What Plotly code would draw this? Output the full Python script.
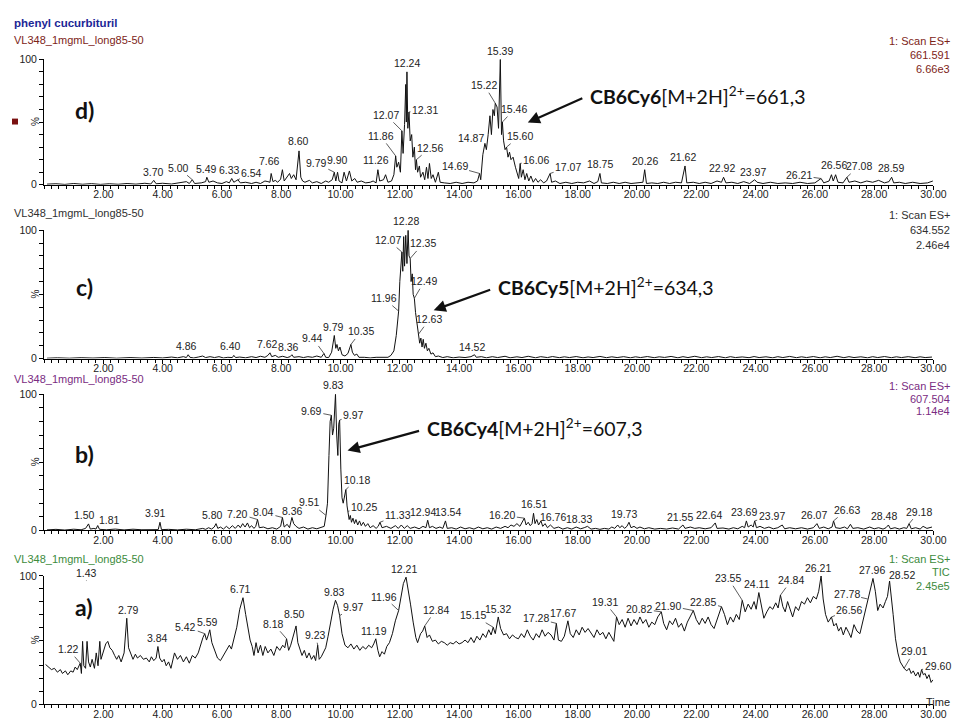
import plotly.graph_objects as go

FONT = "Liberation Sans, Arial, sans-serif"
BIG = "Lato, Calibri, sans-serif"

# ---------------- data (retention time in min, relative intensity in %) ----------------
# d) m/z 661.591
d_scan = [
    (0.10, 0.5), (0.40, 0.8), (0.70, 0.3), (1.00, 1.0), (1.30, 0.4), (1.60, 0.9), (1.90, 0.3), (2.20, 0.8),
    (2.50, 0.4), (2.80, 1.0), (3.10, 0.5), (3.40, 1.2), (3.60, 0.6), (3.70, 3.5), (3.78, 0.8), (4.00, 1.2),
    (4.30, 0.6), (4.55, 1.5), (4.80, 2.5), (4.90, 1.0), (5.00, 4.0), (5.08, 1.0), (5.30, 1.5), (5.45, 2.5),
    (5.49, 6.0), (5.56, 2.0), (5.70, 3.0), (5.85, 1.5), (6.00, 1.0), (6.15, 2.5), (6.25, 1.5), (6.33, 5.0),
    (6.40, 2.0), (6.47, 3.0), (6.54, 4.0), (6.62, 1.5), (6.80, 2.0), (7.00, 1.0), (7.15, 2.0), (7.30, 1.0),
    (7.45, 3.0), (7.55, 2.5), (7.62, 2.0), (7.66, 9.0), (7.72, 2.5), (7.80, 3.5), (7.88, 2.0), (7.98, 4.5),
    (8.04, 12.0), (8.10, 3.0), (8.20, 6.0), (8.28, 9.0), (8.34, 5.0), (8.42, 8.0), (8.50, 4.0), (8.60, 27.0),
    (8.66, 6.0), (8.72, 3.0), (8.80, 2.0), (8.95, 3.5), (9.05, 1.5), (9.20, 2.5), (9.35, 1.0), (9.50, 3.0),
    (9.60, 2.0), (9.72, 4.0), (9.79, 10.0), (9.84, 3.0), (9.90, 10.0), (9.95, 3.0), (10.05, 1.5), (10.12, 10.0),
    (10.20, 3.0), (10.30, 11.0), (10.38, 3.0), (10.48, 5.0), (10.56, 2.0), (10.70, 3.0), (10.85, 1.5), (11.00, 2.0),
    (11.10, 3.0), (11.20, 1.5), (11.26, 12.0), (11.32, 3.0), (11.45, 4.0), (11.52, 8.0), (11.60, 2.0), (11.72, 3.0),
    (11.80, 8.0), (11.86, 23.0), (11.90, 14.0), (11.96, 18.0), (12.02, 10.0), (12.07, 43.0), (12.11, 25.0),
    (12.16, 48.0), (12.20, 80.0), (12.22, 50.0), (12.24, 90.0), (12.27, 45.0), (12.31, 58.0), (12.35, 35.0),
    (12.40, 40.0), (12.44, 22.0), (12.49, 30.0), (12.53, 12.0), (12.56, 20.0), (12.60, 10.0), (12.66, 15.0),
    (12.70, 6.0), (12.78, 10.0), (12.84, 4.0), (12.90, 14.0), (12.95, 5.0), (13.00, 17.0), (13.06, 5.0),
    (13.12, 8.0), (13.20, 2.0), (13.30, 10.0), (13.36, 2.0), (13.50, 1.5), (13.70, 1.0), (13.90, 2.0),
    (14.10, 1.0), (14.30, 2.0), (14.50, 1.5), (14.62, 3.0), (14.69, 9.0), (14.73, 4.0), (14.80, 24.0),
    (14.87, 33.0), (14.92, 28.0), (14.98, 40.0), (15.04, 55.0), (15.09, 40.0), (15.14, 60.0), (15.19, 55.0),
    (15.22, 65.0), (15.28, 62.0), (15.33, 45.0), (15.39, 100.0), (15.43, 40.0), (15.46, 50.0), (15.50, 35.0),
    (15.55, 28.0), (15.60, 30.0), (15.65, 22.0), (15.70, 26.0), (15.75, 20.0), (15.82, 22.0), (15.90, 14.0),
    (15.96, 10.0), (16.01, 5.0), (16.06, 17.0), (16.10, 6.0), (16.16, 12.0), (16.22, 4.0), (16.28, 9.0),
    (16.35, 3.0), (16.42, 7.0), (16.50, 2.0), (16.58, 5.0), (16.66, 2.0), (16.75, 4.0), (16.85, 1.5),
    (16.95, 3.0), (17.07, 9.0), (17.12, 2.0), (17.25, 3.0), (17.40, 1.0), (17.60, 2.0), (17.80, 1.0),
    (18.00, 2.0), (18.20, 1.5), (18.40, 3.0), (18.55, 1.0), (18.68, 2.5), (18.75, 9.0), (18.80, 1.5),
    (19.00, 1.0), (19.20, 2.0), (19.40, 1.0), (19.60, 2.0), (19.80, 1.0), (20.00, 1.5), (20.20, 2.0),
    (20.26, 12.0), (20.32, 1.0), (20.50, 1.5), (20.70, 1.0), (20.90, 2.0), (21.10, 1.0), (21.30, 2.0),
    (21.50, 1.5), (21.62, 15.0), (21.68, 1.5), (21.90, 2.0), (22.10, 1.0), (22.30, 2.0), (22.50, 1.0),
    (22.70, 3.0), (22.85, 2.0), (22.92, 6.0), (23.00, 1.5), (23.20, 2.0), (23.40, 1.0), (23.60, 2.5),
    (23.80, 1.0), (23.97, 4.0), (24.05, 2.0), (24.25, 1.0), (24.50, 2.0), (24.75, 1.0), (25.00, 1.5),
    (25.25, 1.0), (25.50, 2.0), (25.75, 1.0), (26.00, 1.5), (26.21, 5.0), (26.30, 1.5), (26.48, 3.0),
    (26.56, 8.0), (26.62, 3.0), (26.70, 8.0), (26.78, 2.0), (26.95, 1.5), (27.08, 6.0), (27.15, 2.0),
    (27.35, 3.0), (27.55, 1.5), (27.75, 3.0), (27.95, 2.0), (28.15, 3.5), (28.35, 1.5), (28.50, 2.5),
    (28.59, 6.0), (28.66, 1.5), (28.85, 2.0), (29.05, 1.0), (29.30, 2.0), (29.55, 1.0), (29.80, 1.5),
    (29.98, 3.0),
]
d_peaks = [3.70, 5.00, 5.49, 6.33, 6.54, 7.66, 8.60, 9.79, 9.90, 11.26, 11.86, 12.07, 12.24, 12.31, 12.56,
           14.69, 14.87, 15.22, 15.39, 15.46, 15.60, 16.06, 17.07, 18.75, 20.26, 21.62, 22.92, 23.97,
           26.21, 26.56, 27.08, 28.59]

# c) m/z 634.552
c_scan = [
    (0.10, 0.3), (0.45, 0.6), (0.85, 0.3), (1.25, 0.7), (1.65, 0.4), (2.05, 0.8), (2.45, 0.3), (2.90, 0.8),
    (3.30, 0.4), (3.70, 0.9), (4.00, 0.5), (4.30, 1.2), (4.50, 0.6), (4.70, 1.5), (4.80, 0.8), (4.86, 3.0),
    (4.92, 1.0), (5.05, 0.5), (5.20, 1.2), (5.35, 2.0), (5.45, 0.8), (5.60, 1.5), (5.75, 0.8), (5.90, 1.5),
    (6.05, 0.5), (6.20, 1.0), (6.35, 0.8), (6.40, 2.5), (6.46, 0.8), (6.60, 1.2), (6.80, 0.6), (7.00, 1.5),
    (7.15, 0.8), (7.30, 1.8), (7.45, 1.0), (7.55, 2.5), (7.62, 4.5), (7.68, 1.5), (7.80, 2.5), (7.90, 1.0),
    (8.05, 1.8), (8.20, 0.8), (8.30, 1.5), (8.36, 3.0), (8.42, 1.0), (8.60, 1.5), (8.75, 0.8), (8.90, 1.5),
    (9.05, 1.0), (9.20, 2.0), (9.35, 1.0), (9.44, 4.0), (9.50, 1.0), (9.60, 0.8), (9.70, 5.0), (9.79, 18.0),
    (9.84, 8.0), (9.88, 11.0), (9.93, 6.0), (9.98, 9.0), (10.05, 3.0), (10.15, 2.0), (10.25, 4.0), (10.30, 8.0),
    (10.35, 11.0), (10.40, 5.0), (10.47, 2.5), (10.55, 3.5), (10.62, 1.0), (10.80, 1.0), (11.00, 0.5),
    (11.20, 1.0), (11.40, 0.8), (11.60, 1.0), (11.70, 2.5), (11.80, 6.0), (11.88, 18.0), (11.96, 37.0),
    (12.00, 60.0), (12.03, 75.0), (12.07, 83.0), (12.10, 68.0), (12.13, 95.0), (12.16, 72.0), (12.20, 96.0),
    (12.24, 74.0), (12.28, 100.0), (12.31, 80.0), (12.35, 78.0), (12.38, 60.0), (12.42, 66.0), (12.45, 50.0),
    (12.49, 47.0), (12.53, 36.0), (12.57, 28.0), (12.60, 24.0), (12.63, 19.0), (12.67, 12.0), (12.71, 16.0),
    (12.75, 9.0), (12.79, 15.0), (12.83, 8.0), (12.88, 12.0), (12.93, 6.0), (12.98, 8.0), (13.05, 3.5),
    (13.12, 4.5), (13.20, 1.5), (13.30, 2.0), (13.45, 0.8), (13.60, 1.5), (13.80, 0.6), (14.00, 1.2),
    (14.20, 0.8), (14.40, 1.5), (14.52, 3.0), (14.58, 1.0), (14.75, 1.5), (14.92, 0.6), (15.12, 1.5),
    (15.30, 0.8), (15.55, 1.8), (15.72, 0.6), (15.95, 1.4), (16.12, 0.8), (16.33, 1.8), (16.58, 0.6),
    (16.75, 1.5), (16.98, 0.8), (17.15, 1.6), (17.38, 0.7), (17.55, 1.4), (17.72, 0.8), (17.95, 1.6),
    (18.18, 0.6), (18.35, 1.3), (18.52, 0.8), (18.75, 1.7), (18.97, 0.7), (19.15, 1.4), (19.33, 0.8),
    (19.55, 1.5), (19.78, 0.6), (19.95, 1.4), (20.12, 0.8), (20.35, 1.6), (20.58, 0.7), (20.75, 1.4),
    (20.93, 0.9), (21.15, 1.7), (21.38, 0.6), (21.55, 1.5), (21.72, 0.8), (21.95, 1.8), (22.18, 0.7),
    (22.35, 1.4), (22.52, 0.8), (22.75, 1.6), (22.98, 0.6), (23.15, 1.5), (23.32, 0.8), (23.55, 1.3),
    (23.78, 0.7), (23.95, 1.6), (24.12, 0.8), (24.35, 1.4), (24.58, 0.6), (24.75, 1.5), (24.92, 0.8),
    (25.15, 1.7), (25.38, 0.7), (25.55, 1.4), (25.72, 0.8), (25.95, 1.6), (26.18, 0.6), (26.35, 1.4),
    (26.52, 0.8), (26.75, 1.8), (26.98, 0.7), (27.15, 1.5), (27.32, 0.8), (27.55, 1.4), (27.78, 0.6),
    (27.95, 1.5), (28.12, 0.8), (28.35, 1.6), (28.58, 0.7), (28.75, 1.4), (28.92, 0.8), (29.15, 1.5),
    (29.38, 0.7), (29.55, 1.4), (29.72, 0.8), (29.95, 1.2),
]
c_peaks = [4.86, 6.40, 7.62, 8.36, 9.44, 9.79, 10.35, 11.96, 12.07, 12.28, 12.35, 12.49, 12.63, 14.52]

# b) m/z 607.504
b_scan = [
    (0.10, 0.4), (0.40, 0.8), (0.70, 0.3), (1.00, 0.9), (1.25, 0.5), (1.40, 1.5), (1.50, 4.8), (1.56, 1.0),
    (1.68, 1.5), (1.75, 1.0), (1.81, 3.6), (1.87, 0.8), (2.10, 0.5), (2.40, 1.0), (2.70, 0.4), (3.00, 0.9),
    (3.30, 0.5), (3.60, 0.8), (3.85, 0.6), (3.91, 6.0), (3.96, 0.6), (4.20, 0.8), (4.50, 0.4), (4.80, 0.9),
    (5.10, 0.5), (5.35, 1.5), (5.45, 0.8), (5.55, 2.0), (5.65, 1.0), (5.74, 2.5), (5.80, 5.0), (5.86, 1.5),
    (5.95, 2.5), (6.05, 1.0), (6.15, 3.0), (6.25, 1.2), (6.35, 3.5), (6.45, 1.5), (6.55, 4.0), (6.62, 2.0),
    (6.70, 5.0), (6.78, 2.5), (6.86, 5.5), (6.93, 2.0), (7.00, 3.5), (7.08, 1.5), (7.14, 3.0), (7.20, 8.0),
    (7.26, 2.0), (7.40, 2.5), (7.55, 1.2), (7.70, 2.0), (7.85, 1.0), (7.98, 3.0), (8.04, 9.5), (8.10, 2.5),
    (8.20, 4.5), (8.28, 2.0), (8.36, 9.5), (8.42, 5.0), (8.50, 3.0), (8.60, 1.5), (8.75, 2.5), (8.90, 1.0),
    (9.05, 2.0), (9.20, 1.2), (9.35, 2.0), (9.45, 3.0), (9.51, 11.0), (9.56, 20.0), (9.61, 55.0), (9.65, 80.0),
    (9.69, 84.5), (9.73, 70.0), (9.77, 75.0), (9.83, 100.0), (9.87, 70.0), (9.91, 55.0), (9.94, 78.0),
    (9.97, 81.0), (10.01, 45.0), (10.05, 24.0), (10.09, 20.0), (10.14, 26.0), (10.18, 30.0), (10.22, 18.0),
    (10.25, 14.0), (10.29, 8.0), (10.33, 11.0), (10.37, 6.0), (10.42, 9.0), (10.47, 5.0), (10.52, 8.0),
    (10.58, 4.0), (10.64, 7.0), (10.70, 3.5), (10.77, 6.0), (10.84, 3.0), (10.92, 5.0), (11.00, 2.0),
    (11.10, 3.5), (11.20, 1.5), (11.27, 3.0), (11.33, 6.0), (11.40, 2.0), (11.55, 3.0), (11.70, 1.5),
    (11.85, 3.5), (11.95, 1.5), (12.05, 4.0), (12.15, 1.5), (12.25, 3.5), (12.35, 1.5), (12.50, 2.5),
    (12.65, 1.2), (12.78, 3.0), (12.88, 2.0), (12.94, 7.5), (13.00, 2.0), (13.10, 3.0), (13.22, 1.5),
    (13.35, 2.5), (13.45, 1.5), (13.54, 7.0), (13.60, 1.5), (13.75, 2.0), (13.90, 1.0), (14.05, 2.5),
    (14.20, 1.2), (14.35, 2.0), (14.50, 1.0), (14.65, 2.5), (14.80, 1.2), (14.95, 2.0), (15.10, 1.0),
    (15.25, 2.5), (15.40, 1.5), (15.55, 3.0), (15.65, 2.0), (15.75, 4.0), (15.85, 3.0), (15.95, 5.0),
    (16.05, 3.0), (16.12, 6.0), (16.20, 9.0), (16.26, 4.0), (16.33, 6.0), (16.40, 3.5), (16.46, 5.0),
    (16.51, 12.6), (16.56, 5.0), (16.62, 8.0), (16.68, 4.0), (16.76, 7.0), (16.82, 3.0), (16.90, 5.0),
    (16.98, 2.0), (17.08, 4.0), (17.20, 1.5), (17.35, 2.5), (17.50, 1.0), (17.65, 2.0), (17.80, 1.0),
    (17.95, 2.5), (18.10, 1.2), (18.22, 2.0), (18.33, 3.0), (18.45, 1.0), (18.60, 1.5), (18.75, 0.8),
    (18.90, 1.5), (19.05, 1.0), (19.15, 2.5), (19.25, 1.5), (19.35, 4.0), (19.42, 2.0), (19.50, 3.5),
    (19.58, 1.5), (19.66, 3.0), (19.73, 6.0), (19.80, 2.0), (19.90, 3.0), (20.00, 1.5), (20.10, 2.5),
    (20.25, 1.2), (20.40, 2.0), (20.60, 1.0), (20.80, 1.5), (21.00, 1.0), (21.20, 1.8), (21.40, 1.0),
    (21.55, 4.0), (21.62, 1.5), (21.80, 2.5), (21.95, 1.5), (22.10, 2.0), (22.30, 1.2), (22.50, 2.0),
    (22.64, 5.5), (22.70, 1.5), (22.90, 1.8), (23.10, 1.0), (23.25, 2.0), (23.40, 1.2), (23.55, 3.0),
    (23.63, 2.0), (23.69, 7.0), (23.75, 2.5), (23.85, 4.0), (23.92, 2.5), (23.97, 7.0), (24.03, 2.0),
    (24.15, 3.0), (24.30, 1.5), (24.45, 2.5), (24.60, 1.2), (24.75, 2.0), (24.90, 4.0), (24.98, 1.2),
    (25.15, 2.0), (25.35, 1.2), (25.55, 2.0), (25.75, 1.0), (25.95, 2.0), (26.07, 5.0), (26.15, 1.5),
    (26.30, 2.5), (26.45, 1.2), (26.58, 2.5), (26.63, 7.0), (26.70, 2.0), (26.85, 1.5), (27.00, 2.5),
    (27.10, 1.2), (27.20, 4.5), (27.28, 1.5), (27.45, 2.0), (27.65, 1.0), (27.85, 2.5), (28.00, 1.2),
    (28.15, 2.0), (28.30, 1.0), (28.40, 2.0), (28.48, 4.0), (28.55, 1.2), (28.70, 2.0), (28.85, 1.0),
    (29.00, 2.0), (29.10, 1.5), (29.18, 5.0), (29.25, 1.2), (29.40, 2.0), (29.55, 1.0), (29.65, 3.0),
    (29.78, 1.5), (29.95, 2.5),
]
b_peaks = [1.50, 1.81, 3.91, 5.80, 7.20, 8.04, 8.36, 9.51, 9.69, 9.83, 9.97, 10.18, 10.25, 11.33, 12.94,
           13.54, 16.20, 16.51, 16.76, 18.33, 19.73, 21.55, 22.64, 23.69, 23.97, 26.07, 26.63, 28.48, 29.18]

# a) TIC
a_scan = [
    (0.05, 31), (0.15, 29), (0.25, 27), (0.35, 28), (0.45, 25), (0.55, 27), (0.62, 24), (0.72, 26),
    (0.80, 23), (0.90, 26), (0.98, 25), (1.05, 29), (1.12, 27), (1.22, 32), (1.26, 24), (1.30, 49),
    (1.34, 30), (1.40, 28), (1.45, 49), (1.50, 33), (1.56, 29), (1.62, 35), (1.70, 28), (1.76, 40),
    (1.82, 30), (1.88, 49), (1.92, 35), (2.08, 47), (2.15, 49), (2.22, 44), (2.30, 42), (2.38, 38),
    (2.45, 35), (2.52, 38), (2.60, 33), (2.70, 40), (2.79, 67), (2.85, 44), (2.92, 40), (3.00, 35),
    (3.08, 39), (3.15, 36), (3.25, 38), (3.35, 35), (3.45, 36), (3.55, 33), (3.62, 37), (3.70, 34),
    (3.78, 36), (3.84, 45), (3.90, 36), (3.98, 33), (4.05, 35), (4.12, 30), (4.20, 33), (4.28, 28),
    (4.40, 40), (4.50, 35), (4.60, 38), (4.70, 33), (4.80, 37), (4.90, 32), (5.00, 38), (5.10, 36),
    (5.20, 40), (5.30, 48), (5.36, 52), (5.42, 55), (5.48, 50), (5.54, 54), (5.59, 58), (5.66, 48),
    (5.75, 42), (5.85, 36), (5.95, 34), (6.05, 38), (6.15, 42), (6.25, 46), (6.32, 43), (6.40, 50),
    (6.50, 60), (6.60, 74), (6.71, 83), (6.80, 70), (6.88, 58), (6.95, 50), (7.02, 45), (7.08, 38),
    (7.15, 48), (7.22, 40), (7.30, 46), (7.38, 38), (7.46, 45), (7.55, 40), (7.65, 43), (7.75, 38),
    (7.85, 45), (7.95, 42), (8.05, 46), (8.12, 44), (8.18, 51), (8.25, 42), (8.32, 46), (8.40, 52),
    (8.50, 61), (8.56, 48), (8.62, 44), (8.70, 38), (8.78, 42), (8.86, 36), (8.94, 40), (9.02, 35),
    (9.10, 38), (9.16, 34), (9.23, 46), (9.28, 35), (9.35, 37), (9.42, 40), (9.50, 44), (9.58, 53),
    (9.66, 64), (9.75, 74), (9.83, 81), (9.90, 77), (9.97, 69), (10.05, 55), (10.15, 46), (10.25, 44),
    (10.35, 47), (10.45, 43), (10.55, 46), (10.65, 42), (10.75, 45), (10.85, 43), (10.95, 46), (11.05, 44),
    (11.12, 47), (11.19, 51), (11.26, 42), (11.32, 37), (11.40, 41), (11.48, 39), (11.56, 45), (11.65, 48),
    (11.75, 55), (11.85, 65), (11.96, 73), (12.05, 86), (12.12, 94), (12.21, 99), (12.28, 90), (12.36, 78),
    (12.45, 64), (12.54, 52), (12.60, 48), (12.70, 55), (12.77, 57), (12.84, 61), (12.92, 52), (13.00, 54),
    (13.10, 49), (13.20, 50), (13.30, 47), (13.40, 49), (13.50, 48), (13.60, 46), (13.70, 48), (13.80, 47),
    (13.90, 49), (14.00, 47), (14.10, 48), (14.20, 50), (14.30, 48), (14.40, 52), (14.50, 48), (14.60, 53),
    (14.70, 50), (14.80, 55), (14.90, 52), (15.00, 58), (15.08, 54), (15.15, 60), (15.22, 55), (15.32, 68),
    (15.40, 59), (15.50, 54), (15.60, 55), (15.70, 51), (15.80, 54), (15.90, 52), (16.00, 51), (16.10, 55),
    (16.20, 52), (16.30, 58), (16.40, 53), (16.50, 50), (16.60, 55), (16.70, 52), (16.80, 58), (16.90, 53),
    (17.00, 56), (17.10, 54), (17.20, 50), (17.28, 63), (17.35, 50), (17.45, 49), (17.55, 53), (17.67, 65),
    (17.75, 55), (17.85, 52), (17.95, 58), (18.05, 54), (18.15, 60), (18.25, 56), (18.35, 59), (18.45, 55),
    (18.55, 52), (18.65, 58), (18.75, 54), (18.85, 56), (18.95, 51), (19.05, 56), (19.15, 52), (19.22, 49),
    (19.31, 68), (19.40, 62), (19.50, 66), (19.60, 60), (19.70, 67), (19.80, 61), (19.90, 66), (20.00, 62),
    (20.10, 68), (20.20, 63), (20.30, 66), (20.40, 60), (20.50, 64), (20.60, 62), (20.70, 68), (20.82, 72),
    (20.90, 63), (21.00, 58), (21.10, 65), (21.20, 62), (21.30, 67), (21.40, 60), (21.50, 63), (21.60, 57),
    (21.70, 64), (21.80, 68), (21.90, 73), (22.00, 66), (22.10, 62), (22.20, 67), (22.30, 63), (22.40, 68),
    (22.50, 62), (22.60, 59), (22.70, 66), (22.85, 76), (22.95, 70), (23.05, 62), (23.15, 68), (23.25, 64),
    (23.35, 70), (23.45, 66), (23.55, 81), (23.65, 72), (23.75, 78), (23.85, 74), (23.95, 80), (24.02, 74),
    (24.11, 87), (24.20, 75), (24.28, 67), (24.38, 72), (24.48, 76), (24.58, 74), (24.68, 79), (24.76, 75),
    (24.84, 85), (24.92, 76), (25.00, 72), (25.08, 80), (25.16, 74), (25.25, 68), (25.35, 76), (25.45, 73),
    (25.55, 80), (25.65, 78), (25.75, 83), (25.85, 79), (25.95, 84), (26.05, 82), (26.13, 88), (26.21, 100),
    (26.28, 82), (26.36, 70), (26.45, 64), (26.56, 68), (26.64, 61), (26.72, 63), (26.80, 57), (26.88, 60),
    (26.96, 54), (27.05, 60), (27.14, 56), (27.22, 52), (27.32, 62), (27.42, 57), (27.52, 55), (27.62, 65),
    (27.70, 72), (27.78, 82), (27.88, 90), (27.96, 98), (28.04, 88), (28.12, 73), (28.20, 78), (28.30, 75),
    (28.38, 80), (28.45, 84), (28.52, 96), (28.58, 85), (28.64, 70), (28.72, 51), (28.80, 40), (28.88, 33),
    (28.95, 30), (29.01, 28), (29.10, 26), (29.18, 28), (29.25, 24), (29.32, 26), (29.40, 22), (29.48, 25),
    (29.54, 21), (29.60, 27), (29.66, 23), (29.72, 24), (29.78, 20), (29.85, 23), (29.92, 17), (29.98, 19),
]
a_peaks = [1.22, 2.79, 3.84, 5.42, 5.59, 6.71, 8.18, 8.50, 9.23, 9.83, 9.97, 11.19, 11.96, 12.21, 12.84,
           15.15, 15.32, 17.28, 17.67, 19.31, 20.82, 21.90, 22.85, 23.55, 24.11, 24.84, 26.21, 26.56,
           27.78, 27.96, 28.52, 29.01, 29.60]

x_tick_values = [2, 4, 6, 8, 10, 12, 14, 16, 18, 20, 22, 24, 26, 28, 30]
x_tick_labels = ["%.2f" % t for t in x_tick_values]

# ---------------- label placement (pixel offsets: dx, dy, leader line) ----------------
d_offsets = [(0, -8, 0), (-14, -12, 1), (0, -8, 0), (-2, -8, 0), (14, -7, 1), (-2, -12, 0), (-1, -10, 0),
             (-18, -9, 1), (0, -12, 0), (-2, -10, 0), (-15, -20, 1), (-16, -16, 1), (0, -9, 0), (16, -2, 1),
             (14, -12, 1), (-25, -7, 1), (-14, -5, 1), (-11, -18, 1), (0, -8, 0), (12, -13, 1), (13, -11, 1),
             (16, -3, 1), (18, -6, 1), (0, -9, 0), (0, -9, 0), (-2, -9, 0), (-2, -9, 0), (-2, -8, 0),
             (-22, -3, 1), (3, -10, 0), (12, -11, 1), (-1, -9, 0)]
c_offsets = [(-2, -9, 0), (-3, -9, 0), (-2, -9, 0), (-3, -8, 0), (-11, -15, 1), (-1, -8, 0), (10, -13, 1),
             (-15, -13, 1), (-14, -12, 1), (-2, -9, 0), (13, -15, 1), (10, -17, 1), (11, -15, 1), (-3, -8, 0)]
b_offsets = [(-4, -9, 0), (12, -6, 1), (-4, -9, 0), (-4, -9, 0), (-20, -6, 1), (-19, -5, 1), (1, -6, 0),
             (-16, -13, 1), (-20, -4, 1), (-2, -9, 0), (14, -5, 1), (11, -10, 1), (16, -4, 1), (18, -7, 1),
             (-5, -8, 0), (3, -9, 0), (-22, -3, 1), (0, -9, 0), (12, -4, 1), (-8, -7, 0), (-5, -8, 0),
             (-3, -8, 0), (-6, -8, 0), (-2, -9, 0), (17, -5, 1), (-3, -9, 0), (13, -11, 1), (-4, -9, 0),
             (10, -12, 1)]
a_offsets = [(-12, -14, 1), (2, -8, 0), (0, -8, 0), (-19, -7, 1), (-2, -8, 0), (-2, -9, 0), (-13, -15, 1),
             (-2, -12, 0), (-2, -10, 1), (-1, -8, 0), (14, -9, 1), (-2, -8, 0), (-15, -14, 1), (-2, -8, 0),
             (11, -16, 1), (-20, -12, 1), (0, -8, 0), (-20, -5, 1), (-5, -8, 0), (-12, -15, 1), (-22, -3, 1),
             (-25, -5, 1), (-18, -5, 1), (-14, -22, 1), (-2, -9, 0), (11, -15, 1), (-3, -8, 0), (18, -7, 1),
             (-21, -5, 1), (-1, -8, 0), (12, -6, 1), (10, -17, 1), (16, -4, 1)]

# layout positions are given in reference-picture pixels (965 x 720) and converted to paper fractions;
# the captured picture comes out slightly compressed, so the span used is widened a little
W, H = 965, 720
SX, SY = 0.985, 0.99
X0, X1 = 44, 932  # plot area left/right (picture px)


def px(x, y):
    return x / (W * SX), 1 - y / (H * SY)


panels = [
    # scan, peaks, offsets, y px of 0, y px of 100, colour, header y, right texts, right y, line step,
    # label, label y
    (d_scan, d_peaks, d_offsets, 181, 54, "#7d2418", 34, ["1: Scan ES+", "661.591", "6.66e3"], 35, 14.5,
     "d)", 105),
    (c_scan, c_peaks, c_offsets, 357, 227, "#303030", 210, ["1: Scan ES+", "634.552", "2.46e4"], 212, 15,
     "c)", 285),
    (b_scan, b_peaks, b_offsets, 531, 393, "#7a2c82", 378, ["1: Scan ES+", "607.504", "1.14e4"], 385, 12.5,
     "b)", 454),
    (a_scan, a_peaks, a_offsets, 707, 577, "#3d8b3d", 560, ["1: Scan ES+", "TIC", "2.45e5"], 560, 13.5,
     "a)", 609),
]

fig = go.Figure()
ann = []
shapes = []

for i, (scan, peaks, offs, y0px, y100px, col, hy, rtexts, ry, step, lab, laby) in enumerate(panels):
    k = "" if i == 0 else str(i + 1)
    xa, ya = "x" + k, "y" + k
    times = [p[0] for p in scan]
    vals = [p[1] for p in scan]
    fig.add_trace(go.Scatter(x=times, y=vals, mode="lines", line=dict(color="#111111", width=1),
                             xaxis=xa, yaxis=ya, showlegend=False, hoverinfo="skip"))
    fig.update_layout(**{
        "xaxis" + k: dict(domain=[px(X0, 0)[0], px(X1, 0)[0]], range=[0, 30], anchor=ya, showline=True,
                          linecolor="black", linewidth=1, ticks="outside", ticklen=4, tickwidth=1,
                          tickcolor="black", tickmode="array", tickvals=x_tick_values,
                          ticktext=x_tick_labels, tickfont=dict(family=FONT, size=10.5, color="#222"),
                          ticklabelstandoff=-4, showgrid=False, zeroline=False,
                          minor=dict(tickmode="linear", tick0=0, dtick=0.25, ticklen=3, ticks="outside",
                                     tickcolor="black", tickwidth=1, showgrid=False)),
        "yaxis" + k: dict(domain=[px(0, y0px)[1], px(0, y100px)[1]], range=[0, 100], anchor=xa,
                          showline=True, linecolor="black", linewidth=1, ticks="outside", ticklen=4,
                          tickcolor="black", tickmode="array", tickvals=list(range(0, 101, 10)),
                          ticktext=["0"] + [""] * 9 + ["100"],
                          tickfont=dict(family=FONT, size=10.5, color="#222"),
                          showgrid=False, zeroline=False),
    })
    # peak labels
    for t, (dx, dy, lead) in zip(peaks, offs):
        j = min(range(len(times)), key=lambda n: abs(times[n] - t))
        base = dict(x=times[j], y=vals[j], xref=xa, yref=ya, text="%.2f" % t,
                    font=dict(family=FONT, size=10.5, color="#222"))
        if lead:
            base.update(showarrow=True, arrowhead=0, arrowwidth=0.8, arrowcolor="#333",
                        ax=dx, ay=dy, standoff=0)
        else:
            base.update(showarrow=False, xshift=dx, yshift=-dy)
        ann.append(base)
    # headers
    hx, hyp = px(12, hy)
    ann.append(dict(x=hx, y=hyp, xref="paper", yref="paper", text="VL348_1mgmL_long85-50",
                    showarrow=False, xanchor="left", yanchor="middle",
                    font=dict(family=FONT, size=11, color=col)))
    for n, tx in enumerate(rtexts):
        ryp = px(0, ry + step * n)[1]
        ann.append(dict(x=1.0, y=ryp, xref="paper", yref="paper", text=tx, showarrow=False,
                        xanchor="right", yanchor="middle", font=dict(family=FONT, size=11, color=col)))
    # % axis title
    qx, qy = px(35, (y0px + y100px) / 2)
    ann.append(dict(x=qx, y=qy, xref="paper", yref="paper", text="%", textangle=-90, showarrow=False,
                    xanchor="center", yanchor="middle", font=dict(family=FONT, size=10, color="#222")))
    # panel letter
    lx, ly = px(84, laby)
    ann.append(dict(x=lx, y=ly, xref="paper", yref="paper", text="<b>%s</b>" % lab, showarrow=False,
                    xanchor="center", yanchor="middle", font=dict(family=BIG, size=23, color="#111")))

# title
tx, ty = px(12, 17)
ann.append(dict(x=tx, y=ty, xref="paper", yref="paper", text="<b>phenyl cucurbituril</b>", showarrow=False,
                xanchor="left", yanchor="middle", font=dict(family=FONT, size=11.5, color="#1c2696")))

# special label 1.43 in TIC
ann.append(dict(x=1.43, y=96, xref="x4", yref="y4", text="1.43", showarrow=True, arrowhead=0,
                arrowwidth=0.8, arrowcolor="#333", ax=0, ay=-8, standoff=0,
                font=dict(family=FONT, size=10.5, color="#222")))

# compound annotations with arrows
compounds = [
    ("CB6Cy6", "661,3", (587, 91), (583, 93), (527, 118)),
    ("CB6Cy5", "634,3", (495, 284), (491, 287), (433, 308)),
    ("CB6Cy4", "607,3", (424, 427), (420, 430), (347, 450)),
]
for name, mz, (txp, typ), (tailx, taily), (headx, heady) in compounds:
    x_, y_ = px(txp, typ)
    ann.append(dict(x=x_, y=y_, xref="paper", yref="paper",
                    text="<b>%s</b>[M+2H]<sup>2+</sup>=%s" % (name, mz), showarrow=False,
                    xanchor="left", yanchor="middle", font=dict(family=BIG, size=19.5, color="#111")))
    hx_, hy_ = px(headx, heady)
    ann.append(dict(x=hx_, y=hy_, xref="paper", yref="paper", text="", showarrow=True, arrowhead=2,
                    arrowsize=1.1, arrowwidth=2.2, arrowcolor="#111", ax=tailx - headx, ay=taily - heady,
                    standoff=0))

# "Time" axis label
tmy = px(0, 705)[1]
ann.append(dict(x=1.0, y=tmy, xref="paper", yref="paper", text="Time", showarrow=False, xanchor="right",
                yanchor="middle", font=dict(family=FONT, size=11, color="#222")))

# small marker square beside panel d
sx0, sy0 = px(12, 120)
sx1, sy1 = px(18, 114)
shapes.append(dict(type="rect", xref="paper", yref="paper", x0=sx0, x1=sx1, y0=sy0, y1=sy1,
                   fillcolor="#7a1010", line=dict(width=0)))

fig.update_layout(autosize=True, margin=dict(l=0, r=0, t=0, b=0, pad=0),
                  paper_bgcolor="white", plot_bgcolor="white", annotations=ann, shapes=shapes,
                  font=dict(family=FONT, size=11, color="#222"))

fig.write_html("out.html", config={"displayModeBar": False},
               default_width="100vw", default_height="100vh",
               post_script="document.body.style.margin='0';document.body.style.overflow='hidden';")
